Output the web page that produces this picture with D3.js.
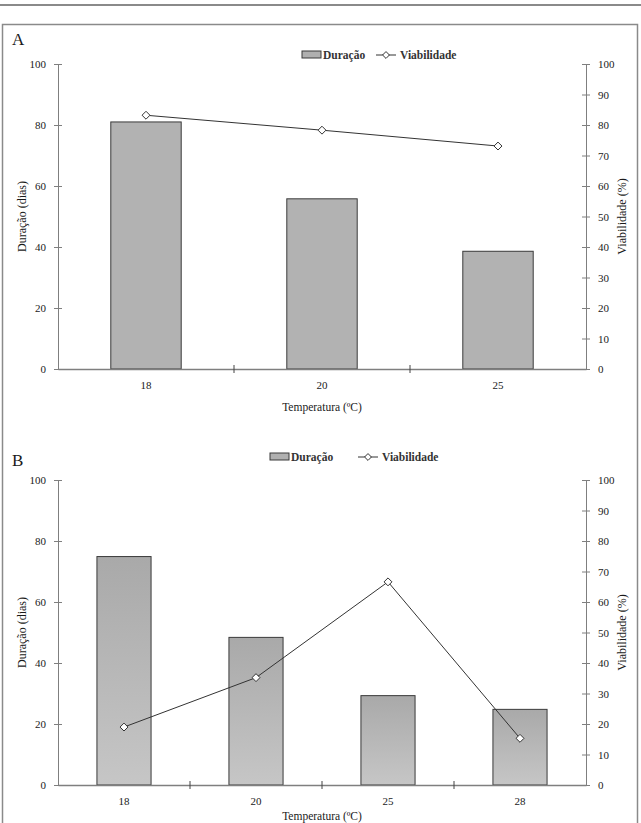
<!DOCTYPE html>
<html><head><meta charset="utf-8">
<script src="https://cdn.jsdelivr.net/npm/d3@7"></script>
<style>
html,body{margin:0;padding:0;background:#fff;}
svg{display:block;}
svg text{font-family:"Liberation Serif","Times New Roman",serif !important;}
</style></head>
<body>
<svg id="chart" width="641" height="823"></svg>
<script>
// ---- data ----
const categoriesA = ["18", "20", "25"];
const duracaoA = [81, 55.8, 38.6];
const viabilidadeA = [83.2, 78.3, 73.1];

const categoriesB = ["18", "20", "25", "28"];
const duracaoB = [74.9, 48.4, 29.3, 24.8];
const viabilidadeB = [19.0, 35.2, 66.6, 15.3];

const leftTicks = [0, 20, 40, 60, 80, 100];
const rightTicks = [0, 10, 20, 30, 40, 50, 60, 70, 80, 90, 100];

const seriesNames = ["Duração", "Viabilidade"];
const xTitle = "Temperatura (ºC)";
const yLeftTitle = "Duração (dias)";
const yRightTitle = "Viabilidade (%)";

const svg = d3.select("#chart");

// page header line and frame
svg.append("line").attr("x1", 0).attr("x2", 641).attr("y1", 5).attr("y2", 5)
  .attr("stroke", "#8a8a8a").attr("stroke-width", 2);
svg.append("rect").attr("x", 2.5).attr("y", 24.5).attr("width", 635).attr("height", 820)
  .attr("fill", "none").attr("stroke", "#8a8a8a").attr("stroke-width", 1.5);

const defs = svg.append("defs");
const grad = defs.append("linearGradient").attr("id", "barGrad")
  .attr("x1", 0).attr("y1", 0).attr("x2", 0).attr("y2", 1);
grad.append("stop").attr("offset", "0%").attr("stop-color", "#a9a9a9");
grad.append("stop").attr("offset", "100%").attr("stop-color", "#c6c6c6");

const axisColor = "#7f7f7f";
const txt = "#1a1a1a";

function panel(o) {
  const g = svg.append("g");
  const x = d3.scaleBand().domain(o.cats).range([o.left, o.right]).paddingInner(0).paddingOuter(0);
  const yL = d3.scaleLinear().domain([0, 100]).range([o.bottom, o.top]);
  const yR = d3.scaleLinear().domain([0, 100]).range([o.bottom, o.top]);
  const bw = x.bandwidth() * o.barFrac;

  // panel label
  g.append("text").attr("x", 12).attr("y", o.labelY).attr("font-size", 17).attr("fill", txt).text(o.label);

  // bars
  g.selectAll("rect.bar").data(o.dur).join("rect").attr("class", "bar")
    .attr("x", (d, i) => x(o.cats[i]) + (x.bandwidth() - bw) / 2)
    .attr("width", bw)
    .attr("y", d => yL(d))
    .attr("height", d => yL(0) - yL(d))
    .attr("fill", o.fill).attr("stroke", "#3a3a3a").attr("stroke-width", 1);

  // left axis
  const axL = g.append("g").attr("transform", `translate(${o.left},0)`)
    .call(d3.axisLeft(yL).tickValues(leftTicks).tickSizeInner(4).tickSizeOuter(0).tickPadding(8));
  axL.select(".domain").attr("stroke", axisColor);
  axL.selectAll(".tick line").attr("stroke", axisColor).attr("x2", 4).attr("x1", -4);
  axL.selectAll(".tick text").attr("font-size", 11).attr("fill", txt);

  // right axis
  const axR = g.append("g").attr("transform", `translate(${o.right},0)`)
    .call(d3.axisRight(yR).tickValues(rightTicks).tickSizeInner(4).tickSizeOuter(0).tickPadding(8));
  axR.select(".domain").attr("stroke", axisColor);
  axR.selectAll(".tick line").attr("stroke", axisColor).attr("x1", -4).attr("x2", 4);
  axR.selectAll(".tick text").attr("font-size", 11).attr("fill", txt);

  // bottom axis
  const axB = g.append("g").attr("transform", `translate(0,${o.bottom})`)
    .call(d3.axisBottom(x).tickSize(0).tickPadding(12));
  axB.select(".domain").attr("stroke", axisColor).attr("stroke-width", 1.5);
  axB.selectAll(".tick text").attr("font-size", 11).attr("fill", txt);
  // category separator ticks
  g.selectAll("line.sep").data(o.cats.slice(1)).join("line").attr("class", "sep")
    .attr("x1", d => x(d)).attr("x2", d => x(d))
    .attr("y1", o.bottom - 4).attr("y2", o.bottom + 4)
    .attr("stroke", "#444").attr("stroke-width", 1);

  // line
  const line = d3.line().x((d, i) => x(o.cats[i]) + x.bandwidth() / 2).y(d => yR(d));
  g.append("path").datum(o.via).attr("d", line).attr("fill", "none")
    .attr("stroke", "#333").attr("stroke-width", 1);
  const diamond = d3.symbol().type(d3.symbolDiamond2).size(40);
  g.selectAll("path.pt").data(o.via).join("path").attr("class", "pt")
    .attr("d", diamond)
    .attr("transform", (d, i) => `translate(${x(o.cats[i]) + x.bandwidth() / 2},${yR(d)})`)
    .attr("fill", "#fff").attr("stroke", "#333").attr("stroke-width", 1);

  // titles
  g.append("text").attr("x", (o.left + o.right) / 2).attr("y", o.xTitleY)
    .attr("text-anchor", "middle").attr("font-size", 11.5).attr("fill", txt).text(xTitle);
  g.append("text").attr("transform", `translate(26,${(o.top + o.bottom) / 2}) rotate(-90)`)
    .attr("text-anchor", "middle").attr("font-size", 12).attr("fill", txt).text(yLeftTitle);
  g.append("text").attr("transform", `translate(626,${(o.top + o.bottom) / 2}) rotate(-90)`)
    .attr("text-anchor", "middle").attr("font-size", 12).attr("fill", txt).text(yRightTitle);

  // legend
  const lg = g.append("g").attr("transform", `translate(${o.legX},${o.legY})`);
  lg.append("rect").attr("x", 0).attr("y", -4).attr("width", 19).attr("height", 7)
    .attr("fill", "#b0b0b0").attr("stroke", "#3a3a3a").attr("stroke-width", 1);
  lg.append("text").attr("x", 21).attr("y", 3.5).attr("font-size", 11.5).attr("font-weight", "bold")
    .attr("fill", "#333").text(seriesNames[0]);
  lg.append("line").attr("x1", o.legGap).attr("x2", o.legGap + 20).attr("y1", 0).attr("y2", 0)
    .attr("stroke", "#333");
  lg.append("path").attr("d", d3.symbol().type(d3.symbolDiamond2).size(30))
    .attr("transform", `translate(${o.legGap + 10},0)`).attr("fill", "#fff").attr("stroke", "#333");
  lg.append("text").attr("x", o.legGap + 24).attr("y", 3.5).attr("font-size", 11.5).attr("font-weight", "bold")
    .attr("fill", "#333").text(seriesNames[1]);
}

panel({cats: categoriesA, dur: duracaoA, via: viabilidadeA, left: 58, right: 586, top: 64, bottom: 369,
  barFrac: 0.4, fill: "#b2b2b2", label: "A", labelY: 45, legX: 302, legY: 55, legGap: 74, xTitleY: 411});
panel({cats: categoriesB, dur: duracaoB, via: viabilidadeB, left: 58, right: 586, top: 480, bottom: 785,
  barFrac: 0.41, fill: "url(#barGrad)", label: "B", labelY: 466, legX: 270, legY: 457, legGap: 88, xTitleY: 820});
</script>
</body></html>
